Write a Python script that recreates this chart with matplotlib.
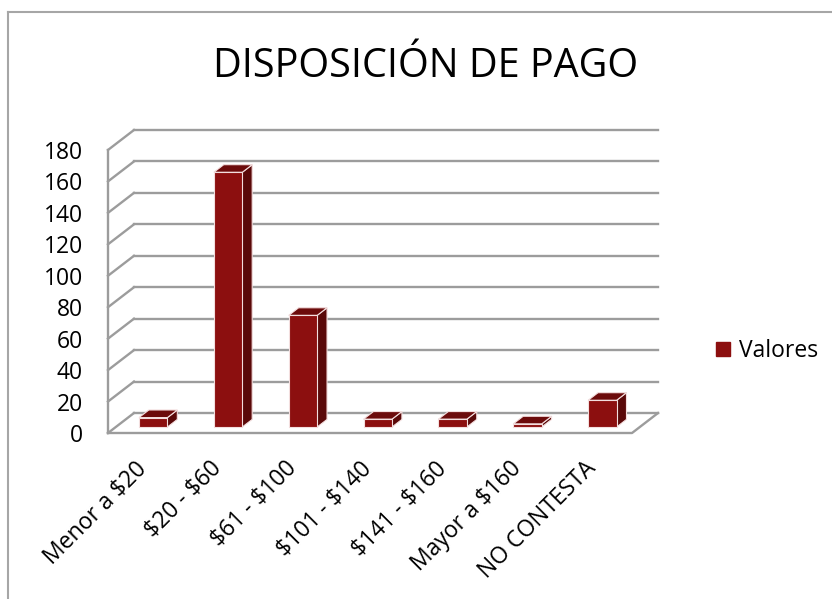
import matplotlib.pyplot as plt
from matplotlib.patches import Polygon
from matplotlib.lines import Line2D

plt.rcParams['text.parse_math'] = False
plt.rcParams['font.family'] = ['Open Sans', 'DejaVu Sans']

categorias = ['Menor a $20', '$20 - $60', '$61 - $100', '$101 - $140',
              '$141 - $160', 'Mayor a $160', 'NO CONTESTA']
valores = [6, 162, 71, 5, 5, 2, 17]
ticks_y = list(range(0, 181, 20))
serie = 'Valores'
titulo = 'DISPOSICIÓN DE PAGO'

# pseudo 3d: depth offset of the back wall in data units
DX = 0.347
DY = 12.7
W = 0.38          # bar width (category units)
D0, D1 = 0.3, 0.68  # bar front / back depth (fraction of wall depth)

c_front = '#8c0f0f'
c_side = '#5a0909'
c_top = '#6c0b0b'
c_grid = '#9c9c9c'

def p(x, v, d):
    return (x + d * DX, v + d * DY)

fig = plt.figure(figsize=(8.32, 5.99), dpi=100)
ax = fig.add_axes([108 / 832, (599 - 433) / 599, 550 / 832, 303 / 599])
n = len(categorias)
ymax = ticks_y[-1]
ax.set_xlim(0, n + DX)
ax.set_ylim(0, ymax + DY)

# back wall gridlines + left wall diagonals
for v in ticks_y:
    ax.plot([DX, n + DX], [v + DY, v + DY], color=c_grid, lw=1.7, clip_on=False, zorder=1)
    ax.plot([0, DX], [v, v + DY], color=c_grid, lw=1.7, clip_on=False, zorder=1)
ax.plot([0, 0], [0, ymax], color=c_grid, lw=1.7, clip_on=False, zorder=1)
# floor
ax.plot([0, n, n + DX], [0, 0, DY], color=c_grid, lw=1.7, clip_on=False, zorder=1)

# bars
for i, v in enumerate(valores):
    x0 = i + 0.5 - W / 2
    x1 = x0 + W
    front = [p(x0, 0, D0), p(x1, 0, D0), p(x1, v, D0), p(x0, v, D0)]
    side = [p(x1, 0, D0), p(x1, 0, D1), p(x1, v, D1), p(x1, v, D0)]
    top = [p(x0, v, D0), p(x1, v, D0), p(x1, v, D1), p(x0, v, D1)]
    for pts, c in [(side, c_side), (top, c_top), (front, c_front)]:
        ax.add_patch(Polygon(pts, closed=True, facecolor=c, edgecolor='#f3dede',
                             lw=0.8, clip_on=False, zorder=3))

for s in ax.spines.values():
    s.set_visible(False)
ax.set_yticks(ticks_y)
ax.set_yticklabels([str(t) for t in ticks_y], fontsize=16.5)
ax.set_xticks([i + 0.47 for i in range(n)])
ax.set_xticklabels(categorias, fontsize=16.5)
plt.setp(ax.get_xticklabels(), rotation=45, ha='right', va='center', rotation_mode='anchor')
ax.tick_params(axis='y', length=0, pad=18)
ax.tick_params(axis='x', length=0, pad=23)
ax.patch.set_visible(False)

fig.text(426 / 832, 1 - 77 / 599, titulo, ha='center', va='baseline', fontsize=28.5)

handle = Line2D([], [], marker='s', ls='', color=c_front, markersize=9.5)
fig.legend(handles=[handle], labels=[serie], loc='center left',
           bbox_to_anchor=(716 / 832, 1 - 351 / 599), frameon=False,
           handlelength=0.6, handletextpad=0.4, borderaxespad=0, borderpad=0,
           fontsize=16.5)

# chart area border
fig.add_artist(Line2D([8 / 832, 8 / 832], [0, 1 - 12 / 599], color='#a6a6a6', lw=1.5))
fig.add_artist(Line2D([8 / 832, 1], [1 - 12 / 599, 1 - 12 / 599], color='#a6a6a6', lw=1.5))

fig.savefig('out.png', dpi=100)
